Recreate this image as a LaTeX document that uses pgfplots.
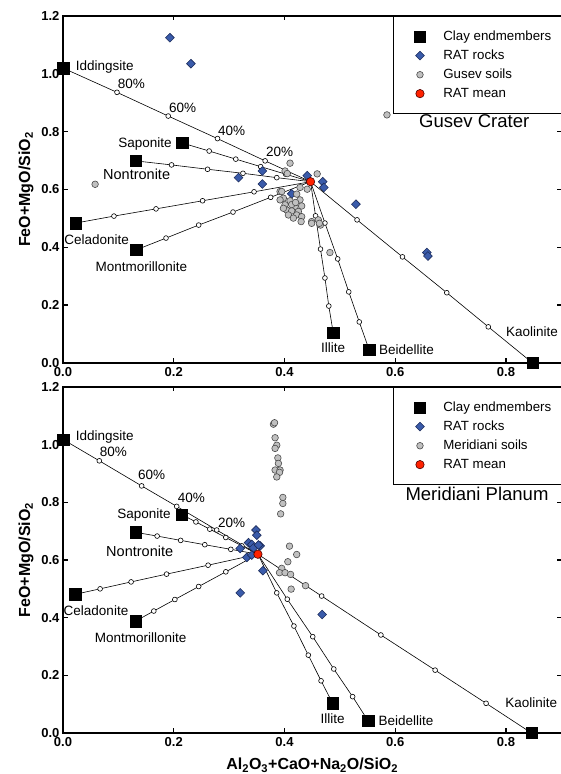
\documentclass[border=0pt]{standalone}
\usepackage{fontspec}
\setmainfont{Liberation Sans}
\usepackage{pgfplots}
\pgfplotsset{compat=1.18}
\definecolor{ratblue}{HTML}{3A5BAA}
\definecolor{ratedge}{HTML}{1C2C5C}
\definecolor{soilfill}{HTML}{C0C0C0}
\definecolor{soiledge}{HTML}{4A4A4A}
\definecolor{meanred}{HTML}{FF2200}
\newcommand\lbl{\fontsize{13.5}{16}\selectfont}
\pgfplotsset{
  panel/.style={
    scale only axis, width=498.4pt,
    xmin=0, xmax=0.9, ymin=0, ymax=1.2, clip=false,
    xtick={0,0.2,0.4,0.6,0.8}, ytick={0,0.2,0.4,0.6,0.8,1.0,1.2},
    tick align=inside, major tick length=4.5pt,
    axis line style={line width=1.4pt},
    every tick/.style={black, line width=1.4pt},
    tick label style={font=\bfseries\fontsize{13}{15}\selectfont},
    xticklabel style={yshift=-1pt,/pgf/number format/fixed,/pgf/number format/fixed zerofill,/pgf/number format/precision=1,/pgf/number format/assume math mode=true},
    yticklabel style={/pgf/number format/fixed,/pgf/number format/fixed zerofill,/pgf/number format/precision=1,/pgf/number format/assume math mode=true},
    ylabel={FeO+MgO/SiO\textsubscript{2}},
    ylabel style={font=\bfseries\fontsize{16}{18}\selectfont, at={(axis description cs:-0.074,0.5)}, anchor=center},
    legend style={at={(rel axis cs:1,1)}, anchor=north east, draw=black, line width=0.8pt, fill=white,
      font=\fontsize{13.3}{15}\selectfont, row sep=4pt, inner xsep=7.7pt, inner ysep=12.5pt},
    legend cell align=left,
  },
  mix/.style={forget plot, black, line width=0.6pt, mark=*, mark size=2.4pt, mark indices={2,3,4,5},
    mark options={fill=white, draw=black, line width=0.6pt}},
  legimg/.style={legend image code/.code={\path (0pt,0pt) (39pt,0pt); \draw[##1] plot coordinates {(18pt,0pt)};}},
  clay/.style={only marks, mark=square*, mark size=5.7pt, mark options={fill=black, draw=black, line width=0.4pt}, legimg},
  rock/.style={only marks, mark=square*, mark size=3.1pt, mark options={rotate=45, fill=ratblue, draw=ratedge, line width=0.6pt}, legimg},
  soil/.style={only marks, mark=*, mark size=3.3pt, mark options={fill=soilfill, draw=soiledge, line width=0.6pt}, legimg},
  ratmean/.style={only marks, mark=*, mark size=4.2pt, mark options={fill=meanred, draw=black!70!red, line width=0.6pt}, legimg},
}
\begin{document}
\begin{tikzpicture}
% ---------------- Gusev Crater ----------------
\begin{axis}[panel, height=347pt, at={(63pt,411pt)}, anchor=south west]
\addplot[mix] coordinates {(0,1.02) (0.0975,0.936) (0.190,0.854) (0.279,0.776) (0.365,0.699) (0.447,0.627)};
\addplot[mix] coordinates {(0.215,0.761) (0.264,0.733) (0.312,0.705) (0.357,0.679) (0.402,0.653) (0.447,0.627)};
\addplot[mix] coordinates {(0.131,0.699) (0.196,0.685) (0.261,0.670) (0.325,0.656) (0.386,0.641) (0.447,0.627)};
\addplot[mix] coordinates {(0.023,0.484) (0.092,0.508) (0.168,0.533) (0.252,0.561) (0.345,0.592) (0.447,0.627)};
\addplot[mix] coordinates {(0.132,0.391) (0.186,0.432) (0.245,0.477) (0.307,0.522) (0.375,0.573) (0.447,0.627)};
\addplot[mix] coordinates {(0.488,0.104) (0.480,0.197) (0.473,0.294) (0.465,0.394) (0.456,0.509) (0.447,0.627)};
\addplot[mix] coordinates {(0.553,0.045) (0.535,0.142) (0.516,0.246) (0.496,0.360) (0.473,0.484) (0.447,0.627)};
\addplot[mix] coordinates {(0.848,0.0) (0.768,0.125) (0.693,0.243) (0.613,0.367) (0.531,0.495) (0.447,0.627)};
\addplot[clay] coordinates {(0,1.02) (0.215,0.761) (0.131,0.699) (0.023,0.484) (0.132,0.391) (0.488,0.104) (0.553,0.045) (0.848,0.0)};
\addlegendentry{Clay endmembers}
\addplot[rock] coordinates {(0.193,1.125) (0.231,1.035) (0.317,0.641) (0.360,0.664) (0.360,0.619) (0.441,0.648) (0.469,0.627) (0.471,0.607) (0.413,0.585) (0.529,0.549) (0.657,0.382) (0.659,0.370)};
\addlegendentry{RAT rocks}
\addplot[soil] coordinates {(0.058,0.618) (0.585,0.858)
 (0.410,0.691) (0.401,0.664) (0.405,0.655) (0.459,0.654) (0.441,0.601) (0.428,0.607) (0.392,0.593) (0.422,0.584)
 (0.398,0.570) (0.410,0.561) (0.428,0.564) (0.401,0.547) (0.419,0.541) (0.431,0.543) (0.404,0.529) (0.413,0.526)
 (0.425,0.524) (0.398,0.535) (0.407,0.512) (0.422,0.512) (0.431,0.506) (0.416,0.501) (0.430,0.489) (0.449,0.489)
 (0.461,0.495) (0.465,0.477) (0.449,0.483) (0.463,0.483) (0.482,0.382) (0.392,0.564) (0.395,0.593) (0.413,0.548) (0.420,0.555)};
\addlegendentry{Gusev soils}
\addplot[ratmean] coordinates {(0.447,0.627)};
\addlegendentry{RAT mean}
\node[font=\lbl, anchor=west] at (axis cs:0.017,1.024) {Iddingsite};
\node[font=\lbl] at (axis cs:0.1233,0.964) {80\%};
\node[font=\lbl] at (axis cs:0.216,0.881) {60\%};
\node[font=\lbl] at (axis cs:0.3046,0.803) {40\%};
\node[font=\lbl] at (axis cs:0.391,0.731) {20\%};
\node[font=\lbl] at (axis cs:0.148,0.758) {Saponite};
\node[font=\fontsize{14.5}{17}\selectfont] at (axis cs:0.133,0.654) {Nontronite};
\node[font=\lbl] at (axis cs:0.0607,0.428) {Celadonite};
\node[font=\lbl] at (axis cs:0.1415,0.333) {Montmorillonite};
\node[font=\lbl] at (axis cs:0.4876,0.054) {Illite};
\node[font=\lbl] at (axis cs:0.6205,0.045) {Beidellite};
\node[font=\lbl] at (axis cs:0.847,0.108) {Kaolinite};
\node[font=\fontsize{18.5}{21}\selectfont] at (axis cs:0.7426,0.835) {Gusev Crater};
\end{axis}
% ---------------- Meridiani Planum ----------------
\begin{axis}[panel, height=346pt, at={(63pt,41pt)}, anchor=south west,
  xlabel={Al\textsubscript{2}O\textsubscript{3}+CaO+Na\textsubscript{2}O/SiO\textsubscript{2}},
  xlabel style={font=\bfseries\fontsize{16}{18}\selectfont, at={(axis description cs:0.5,-0.094)}, anchor=center}]
\addplot[mix] coordinates {(0,1.018) (0.0656,0.944) (0.142,0.857) (0.2053,0.786) (0.2775,0.704) (0.352,0.620)};
\addplot[mix] coordinates {(0.214,0.758) (0.240,0.732) (0.265,0.707) (0.294,0.678) (0.323,0.649) (0.352,0.620)};
\addplot[mix] coordinates {(0.131,0.696) (0.170,0.683) (0.2125,0.668) (0.256,0.653) (0.303,0.637) (0.352,0.620)};
\addplot[mix] coordinates {(0.022,0.481) (0.067,0.500) (0.123,0.524) (0.187,0.551) (0.262,0.582) (0.352,0.620)};
\addplot[mix] coordinates {(0.131,0.388) (0.164,0.423) (0.202,0.463) (0.245,0.508) (0.294,0.559) (0.352,0.620)};
\addplot[mix] coordinates {(0.487,0.103) (0.466,0.181) (0.443,0.270) (0.417,0.371) (0.386,0.486) (0.352,0.620)};
\addplot[mix] coordinates {(0.551,0.042) (0.523,0.126) (0.489,0.222) (0.451,0.334) (0.405,0.464) (0.352,0.620)};
\addplot[mix] coordinates {(0.846,0.0) (0.764,0.103) (0.672,0.218) (0.574,0.340) (0.467,0.475) (0.352,0.620)};
\addplot[clay] coordinates {(0,1.018) (0.214,0.758) (0.131,0.696) (0.022,0.481) (0.131,0.388) (0.487,0.103) (0.551,0.042) (0.846,0.0)};
\addlegendentry{Clay endmembers}
\addplot[rock] coordinates {(0.3485,0.704) (0.350,0.686) (0.335,0.660) (0.341,0.654) (0.320,0.640) (0.344,0.642) (0.356,0.649) (0.353,0.652) (0.332,0.609) (0.341,0.617) (0.361,0.563) (0.320,0.486) (0.468,0.411)};
\addlegendentry{RAT rocks}
\addplot[soil] coordinates {(0.380,1.071) (0.382,1.076) (0.383,1.024) (0.386,0.998) (0.383,0.987) (0.388,0.954) (0.389,0.935) (0.383,0.912) (0.392,0.912) (0.391,0.904) (0.386,0.888) (0.397,0.817) (0.397,0.796) (0.393,0.760) (0.409,0.648) (0.422,0.619) (0.406,0.594) (0.395,0.571) (0.391,0.556) (0.401,0.556) (0.411,0.550) (0.412,0.499) (0.438,0.511)};
\addlegendentry{Meridiani soils}
\addplot[ratmean] coordinates {(0.352,0.620)};
\addlegendentry{RAT mean}
\node[font=\lbl, anchor=west] at (axis cs:0.017,1.025) {Iddingsite};
\node[font=\lbl] at (axis cs:0.0908,0.975) {80\%};
\node[font=\lbl] at (axis cs:0.160,0.894) {60\%};
\node[font=\lbl] at (axis cs:0.2317,0.8156) {40\%};
\node[font=\lbl] at (axis cs:0.3046,0.730) {20\%};
\node[font=\lbl] at (axis cs:0.1463,0.7556) {Saponite};
\node[font=\fontsize{14.5}{17}\selectfont] at (axis cs:0.1385,0.631) {Nontronite};
\node[font=\lbl] at (axis cs:0.0596,0.424) {Celadonite};
\node[font=\lbl] at (axis cs:0.14,0.330) {Montmorillonite};
\node[font=\lbl] at (axis cs:0.4867,0.051) {Illite};
\node[font=\lbl] at (axis cs:0.6195,0.0416) {Beidellite};
\node[font=\lbl] at (axis cs:0.8457,0.105) {Kaolinite};
\node[font=\fontsize{18.5}{21}\selectfont] at (axis cs:0.7476,0.831) {Meridiani Planum};
\end{axis}
\pgfresetboundingbox
\path[use as bounding box] (0pt,0pt) rectangle (560pt,774pt);
\end{tikzpicture}
\end{document}
